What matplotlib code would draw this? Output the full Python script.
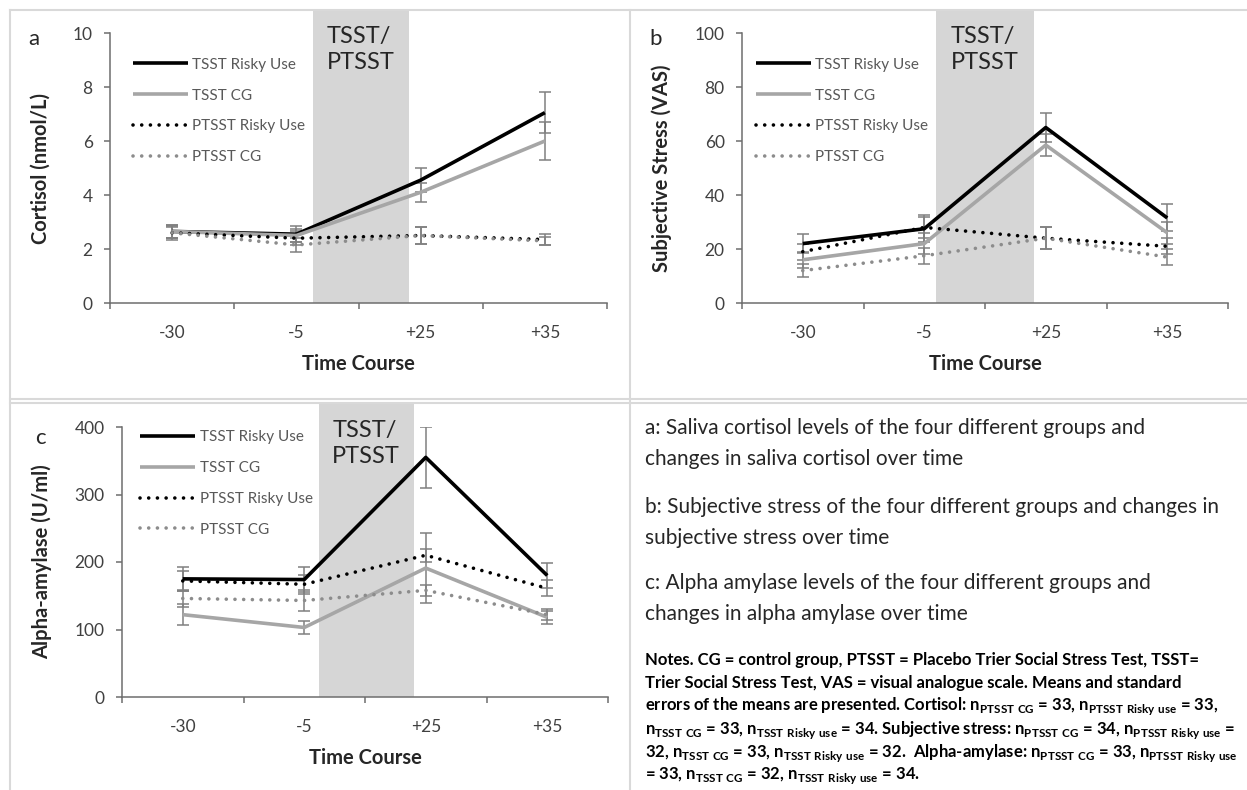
import matplotlib
matplotlib.use("Agg")
import matplotlib.pyplot as plt
from matplotlib.lines import Line2D
from matplotlib.patches import Rectangle

plt.rcParams['font.family'] = ['Lato', 'DejaVu Sans']
plt.rcParams['mathtext.fontset'] = 'custom'
plt.rcParams['mathtext.rm'] = 'Lato'
plt.rcParams['mathtext.bf'] = 'Lato:bold'

times = ['-30', '-5', '+25', '+35']
groups = ['TSST Risky Use', 'TSST CG', 'PTSST Risky Use', 'PTSST CG']

# cortisol (nmol/L)
cort_tsst_risky = [2.65, 2.55, 4.55, 7.05]
cort_tsst_cg = [2.65, 2.5, 4.1, 6.0]
cort_ptsst_risky = [2.6, 2.4, 2.5, 2.35]
cort_ptsst_cg = [2.6, 2.15, 2.5, 2.3]
cort_err_tsst_risky = [0.25, 0.3, 0.45, 0.75]
cort_err_tsst_cg = [0.25, 0.25, 0.35, 0.7]
cort_err_ptsst_risky = [0.25, 0.25, 0.3, 0.2]
cort_err_ptsst_cg = [0.2, 0.25, 0.3, 0.15]

# subjective stress (VAS)
vas_tsst_risky = [22, 27.5, 65, 31.5]
vas_tsst_cg = [16, 22, 58.5, 26]
vas_ptsst_risky = [19, 28, 24, 21]
vas_ptsst_cg = [12, 17.5, 24, 17]
vas_err_tsst_risky = [3.5, 5, 5.5, 5]
vas_err_tsst_cg = [3, 4, 4, 4]
vas_err_ptsst_risky = [3, 4, 4, 3]
vas_err_ptsst_cg = [2.5, 3, 4, 3]

# alpha-amylase (U/ml)
amy_tsst_risky = [175, 174, 355, 180]
amy_tsst_cg = [122, 103, 191, 118]
amy_ptsst_risky = [172, 167, 210, 161]
amy_ptsst_cg = [146, 143, 158, 122]
amy_err_tsst_risky = [18, 18, 45, 18]
amy_err_tsst_cg = [16, 10, 52, 10]
amy_err_ptsst_risky = [15, 14, 10, 12]
amy_err_ptsst_cg = [12, 16, 8, 8]

W, H = 1247, 790
fig = plt.figure(figsize=(W / 100, H / 100), dpi=100)


def box(x, y, w, h):
    return [x / W, 1 - (y + h) / H, w / W, h / H]


styles = [
    dict(color='black', lw=2.6, ls='-'),
    dict(color='#a6a6a6', lw=2.6, ls='-'),
    dict(color='black', lw=2.6, ls=(0, (0.01, 2.4))),
    dict(color='#8c8c8c', lw=2.6, ls=(0, (0.01, 2.4))),
]


def panel(rect, series, errs, ymax, ystep, ylabel, letter, letter_xy,
          span, leg_anchor, ylab_x, frame_top):
    ax = fig.add_axes(box(*rect))
    x = [0.5, 1.5, 2.5, 3.5]
    # shaded TSST window reaches up to the panel frame
    ax.add_patch(Rectangle((span[0], 0), span[1] - span[0], 1 + (rect[1] - frame_top) / rect[3],
                           transform=ax.get_xaxis_transform(), color='#d6d6d6', lw=0,
                           zorder=0, clip_on=False))
    for vals, err, st, name in zip(series, errs, styles, groups):
        ax.errorbar(x, vals, yerr=err, fmt='none', ecolor='#808080',
                    elinewidth=1.1, capsize=4, capthick=1.1, zorder=2)
        ax.plot(x, vals, color=st['color'], lw=st['lw'], ls=st['ls'],
                dash_capstyle='round', solid_capstyle='butt', label=name, zorder=3)
    ax.set_xlim(0, 4)
    ax.set_ylim(0, ymax)
    ax.set_yticks(range(0, ymax + 1, ystep))
    ax.set_xticks(x)
    ax.set_xticklabels(times)
    ax.set_xticks([0, 1, 2, 3, 4], minor=True)
    ax.tick_params(axis='x', which='major', length=0, pad=16, labelsize=12.5,
                   labelcolor='#404040')
    ax.tick_params(axis='x', which='minor', length=4.5, width=1.1,
                   color='#6e6e6e', direction='out')
    ax.tick_params(axis='y', length=4.5, width=1.1, color='#6e6e6e',
                   direction='out', pad=8, labelsize=12.5, labelcolor='#404040')
    for s in ['top', 'right']:
        ax.spines[s].set_visible(False)
    for s in ['left', 'bottom']:
        ax.spines[s].set_color('#6e6e6e')
        ax.spines[s].set_linewidth(1.1)
    ax.set_ylabel(ylabel, fontsize=14.5, fontweight='bold', color='#262626')
    ax.yaxis.set_label_coords(ylab_x, 0.5)
    ax.set_xlabel('Time Course', fontsize=14.5, fontweight='bold', color='#262626')
    ax.xaxis.set_label_coords(0.5, -61 / 270)
    ax.xaxis.label.set_va('center')
    ax.text((span[0] + span[1]) / 2, 1.027, 'TSST/\nPTSST', transform=ax.get_xaxis_transform(),
            ha='center', va='top', multialignment='left', fontsize=17, color='#262626',
            linespacing=1.3, clip_on=False)
    leg = ax.legend(loc='upper left', bbox_to_anchor=leg_anchor, frameon=False,
                    fontsize=11, handlelength=3.6, handletextpad=0.3,
                    labelspacing=1.1, borderpad=0, borderaxespad=0)
    for t in leg.get_texts():
        t.set_color('#595959')
    fig.text(letter_xy[0] / W, 1 - letter_xy[1] / H, letter, fontsize=16,
             color='#262626', ha='center', va='center')
    return ax


panel((110, 33, 497, 270),
      [cort_tsst_risky, cort_tsst_cg, cort_ptsst_risky, cort_ptsst_cg],
      [cort_err_tsst_risky, cort_err_tsst_cg, cort_err_ptsst_risky, cort_err_ptsst_cg],
      10, 2, 'Cortisol (nmol/L)', 'a', (34, 39), (1.63, 2.41), (0.046, 0.908), -59 / 497, 10)

panel((742, 33, 486, 270),
      [vas_tsst_risky, vas_tsst_cg, vas_ptsst_risky, vas_ptsst_cg],
      [vas_err_tsst_risky, vas_err_tsst_cg, vas_err_ptsst_risky, vas_err_ptsst_cg],
      100, 20, 'Subjective Stress (VAS)', 'b', (656, 39), (1.60, 2.40), (0.028, 0.908), -70 / 486, 10)

panel((122, 427, 486, 270),
      [amy_tsst_risky, amy_tsst_cg, amy_ptsst_risky, amy_ptsst_cg],
      [amy_err_tsst_risky, amy_err_tsst_cg, amy_err_ptsst_risky, amy_err_ptsst_cg],
      400, 100, 'Alpha-amylase (U/ml)', 'c', (40, 438), (1.62, 2.40), (0.037, 0.988), -70 / 486, 404)

# panel frames
def hline(y, x0, x1):
    fig.add_artist(Line2D([x0 / W, x1 / W], [1 - y / H, 1 - y / H], color='#d9d9d9', lw=1.5))


def vline(x, y0, y1):
    fig.add_artist(Line2D([x / W, x / W], [1 - y0 / H, 1 - y1 / H], color='#d9d9d9', lw=1.5))


hline(10, 10, W)
hline(399, 10, W)
hline(403, 10, W)
vline(10, 10, H)
vline(630, 10, H)

# captions
captions = [
    (428, 'a: Saliva cortisol levels of the four different groups and'),
    (459, 'changes in saliva cortisol over time'),
    (507, 'b: Subjective stress of the four different groups and changes in'),
    (538, 'subjective stress over time'),
    (583, 'c: Alpha amylase levels of the four different groups and'),
    (614, 'changes in alpha amylase over time'),
]
for y, s in captions:
    fig.text(645 / W, 1 - y / H, s, fontsize=15, color='#262626', va='center', ha='left')

def n(sub):
    return r'$\mathbf{n}_{\mathbf{' + sub.replace(' ', r'\ ') + '}}$'

notes = [
    'Notes. CG = control group, PTSST = Placebo Trier Social Stress Test, TSST=',
    'Trier Social Stress Test, VAS = visual analogue scale. Means and standard',
    'errors of the means are presented. Cortisol: ' + n('PTSST CG') + ' = 33, '
    + n('PTSST Risky use') + ' = 33,',
    n('TSST CG') + ' = 33, ' + n('TSST Risky use') + ' = 34. Subjective stress: '
    + n('PTSST CG') + ' = 34, ' + n('PTSST Risky use') + ' =',
    '32, ' + n('TSST CG') + ' = 33, ' + n('TSST Risky use') + ' = 32.  Alpha-amylase: '
    + n('PTSST CG') + ' = 33, ' + n('PTSST Risky use'),
    '= 33, ' + n('TSST CG') + ' = 32, ' + n('TSST Risky use') + ' = 34.',
]
for i, s in enumerate(notes):
    fig.text(645 / W, 1 - (660 + i * 23.2) / H, s, fontsize=12, fontweight='bold',
             color='black', va='center', ha='left')

fig.savefig('out.png', dpi=100)
